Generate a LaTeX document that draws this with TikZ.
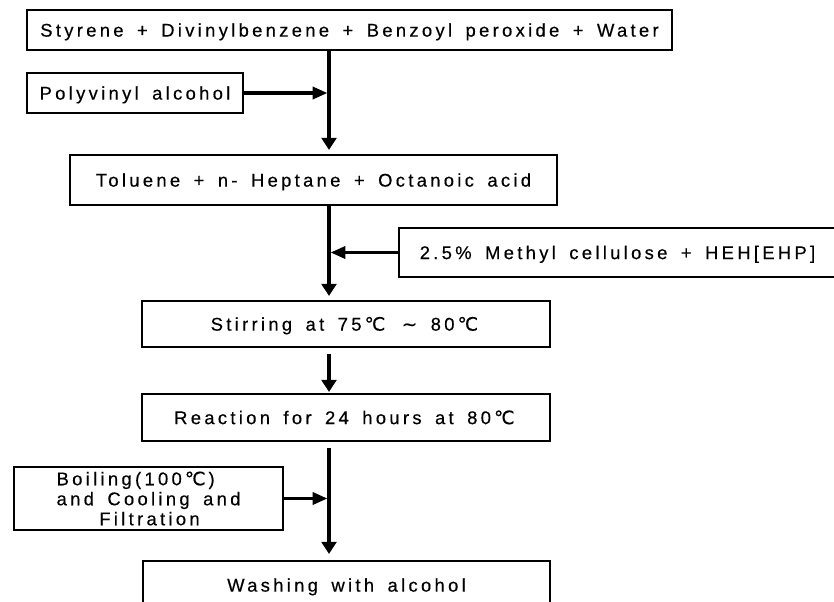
\documentclass[tikz,border=0pt]{standalone}
\usepackage{fontspec}
\usepackage{tikz}
\usetikzlibrary{
  arrows.meta, % Triangle 箭头样式
  positioning  % 节点相对定位
}
\newfontfamily\flowfont[LetterSpace=18, WordSpace=1.6, FakeBold=0.4]{Liberation Sans}
\newfontfamily\signfont[FakeBold=0.4]{DejaVu Sans}
\newcommand{\degC}{\,{\signfont ℃}\,}
\newcommand{\wavesign}{{\signfont ∼}}
\tikzset{
  step box/.style={
    draw,
    line width=1.6pt,
    font=\flowfont\fontsize{13.8}{15}\selectfont,
    inner sep=0pt,
    text height=9.9pt,
    text depth=0pt
  },
  note box/.style={
    draw,
    line width=1.6pt,
    font=\flowfont\fontsize{13.8}{15}\selectfont,
    inner sep=0pt,
    align=left
  },
  main arrow/.style={
    -{Triangle[length=9pt, width=11pt]},
    line width=3.2pt,
    shorten >=3pt
  },
  side arrow/.style={
    -{Triangle[length=11pt, width=9pt]},
    line width=2.4pt,
    shorten >=1.2pt
  }
}

\begin{document}
\begin{tikzpicture}[x=0.75pt, y=-0.75pt]
  % 以像素为单位，y 轴向下，画布与原图同为 834 x 601
  \clip (0,0) rectangle (834,601);
  \coordinate (spine) at (329,0);

  % 1. 主流程方框
  \node[step box, minimum width=483.75pt, minimum height=30pt] (styrene) at (349.5,30)
    {Styrene + Divinylbenzene + Benzoyl peroxide + Water};
  \node[step box, minimum width=365.25pt, minimum height=37.5pt] (toluene) at (313.5,180)
    {Toluene + n- Heptane + Octanoic acid};
  \node[step box, minimum width=306pt, minimum height=34.5pt] (stirring) at (346,324)
    {Stirring at 75\degC\ \wavesign\ 80\degC};
  \node[step box, minimum width=306pt, minimum height=35.25pt] (reaction) at (346,417.5)
    {Reaction for 24 hours at 80\degC};
  \node[step box, minimum width=305.25pt, minimum height=36pt] (washing) at (346.5,585)
    {Washing with alcohol};

  % 2. 侧边加料方框 (Boiling 框左边线在 x = 13)
  \node[step box, minimum width=162pt, minimum height=30pt] (pva) at (135,93)
    {Polyvinyl alcohol};
  \node[step box, minimum width=327.75pt, minimum height=36.75pt] (methyl) at (617.5,252.5)
    {2.5\% Methyl cellulose + HEH[EHP]};
  \node[note box, anchor=west, minimum width=201.75pt, minimum height=47.25pt] (boiling) at (13,498.5)
    {Boiling(100\degC)\\and Cooling and\hspace*{10pt}\\\hspace*{32pt}Filtration};

  % 3. 主干竖直箭头 (共用 x = spine)
  \draw[main arrow] (styrene.south -| spine) -- (toluene.north -| spine);
  \draw[main arrow] (toluene.south -| spine) -- (stirring.north -| spine);
  \draw[main arrow, shorten <=4.5pt, shorten >=0.75pt] (stirring.south -| spine) -- (reaction.north -| spine);
  \draw[main arrow, shorten <=4.5pt, shorten >=4.5pt] (reaction.south -| spine) -- (washing.north -| spine);

  % 4. 水平加料箭头
  \draw[side arrow] (pva.east) -- (pva.east -| spine);
  \draw[side arrow] (methyl.west) -- (methyl.west -| spine);
  \draw[side arrow] (boiling.east) -- (boiling.east -| spine);
\end{tikzpicture}
\end{document}
